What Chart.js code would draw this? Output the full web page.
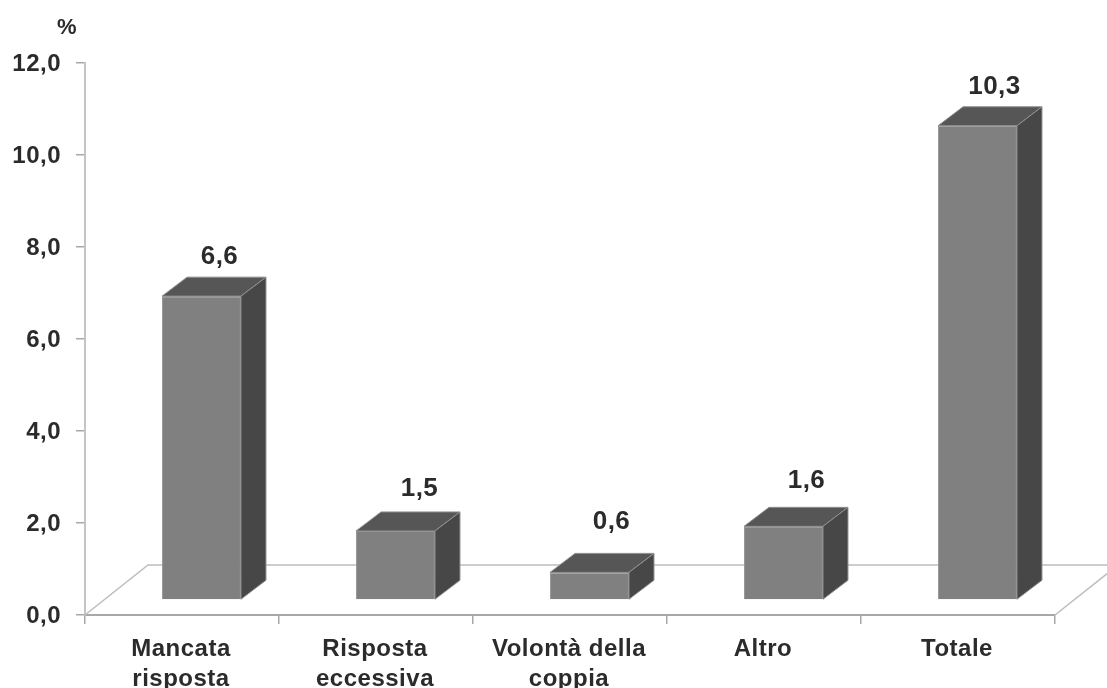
<!DOCTYPE html>
<html>
<head>
<meta charset="utf-8">
<title>Chart</title>
<script src="https://cdn.jsdelivr.net/npm/chart.js@4"></script>
<style>
    html, body { margin: 0; padding: 0; background: #fff; }
    #wrap { width: 1107px; height: 688px; overflow: hidden; }
</style>
</head>
<body>
<div id="wrap"><canvas id="chart" width="1107" height="688"></canvas></div>
<script>
const categories = [['Mancata', 'risposta'], ['Risposta', 'eccessiva'], ['Volontà della', 'coppia'], ['Altro'], ['Totale']];
const values = [6.6, 1.5, 0.6, 1.6, 10.3];
const yTicks = [0, 2, 4, 6, 8, 10, 12];

const comma = v => v.toFixed(1).replace('.', ',');

// 3D look: how far the bars sit from the axis, and how deep they are
const shiftX = 19.5, shiftY = -15;
const depthX = 25, depthY = -19;
// per label nudge from the top of the bar, the original is not regular
const labelNudgeX = [18, 24, 22, 23, 17];
const labelNudgeY = [-39, -42, -51, -46, -39];

const FONT = "'Liberation Sans', Arial, sans-serif";
const TEXT = '#2b2b2b';

function poly(ctx, pts, fill) {
    ctx.beginPath();
    pts.forEach((p, i) => i ? ctx.lineTo(p[0], p[1]) : ctx.moveTo(p[0], p[1]));
    ctx.closePath();
    ctx.fillStyle = fill;
    ctx.fill();
    ctx.strokeStyle = '#8f8f8f';
    ctx.lineWidth = 1;
    ctx.stroke();
}

const bars3d = {
    id: 'bars3d',
    beforeDraw(chart) {
        // the scanned text is a bit wider than Liberation
        chart.ctx.letterSpacing = '0.5px';
    },
    beforeDatasetsDraw(chart) {
        // floor behind the bars
        const { left, right, bottom } = chart.chartArea;
        const ctx = chart.ctx;
        ctx.save();
        ctx.strokeStyle = '#bdbdbd';
        ctx.lineWidth = 1.5;
        ctx.beginPath();
        ctx.moveTo(left, bottom);
        ctx.lineTo(left + 63, bottom - 50);
        ctx.lineTo(right + 63, bottom - 50);
        ctx.lineTo(right, bottom);
        ctx.stroke();
        ctx.restore();
    },
    beforeDatasetDraw(chart) {
        chart.ctx.save();
        chart.ctx.translate(shiftX, shiftY);
    },
    afterDatasetDraw(chart) {
        chart.ctx.restore();
    },
    afterDatasetsDraw(chart) {
        const ctx = chart.ctx;
        const meta = chart.getDatasetMeta(0);
        ctx.save();
        meta.data.forEach((bar, i) => {
            const l = bar.x - bar.width / 2 + shiftX;
            const r = bar.x + bar.width / 2 + shiftX;
            const t = bar.y + shiftY;
            const b = bar.base + shiftY;
            poly(ctx, [[l, t], [l + depthX, t + depthY], [r + depthX, t + depthY], [r, t]], '#565656');
            poly(ctx, [[r, t], [r + depthX, t + depthY], [r + depthX, b + depthY], [r, b]], '#474747');

            ctx.fillStyle = TEXT;
            ctx.font = 'bold 26px ' + FONT;
            ctx.textAlign = 'center';
            ctx.textBaseline = 'middle';
            ctx.fillText(comma(values[i]), bar.x + shiftX + labelNudgeX[i], t + labelNudgeY[i]);
        });
        ctx.font = 'bold 22px ' + FONT;
        ctx.textAlign = 'center';
        ctx.textBaseline = 'middle';
        ctx.fillStyle = TEXT;
        ctx.fillText('%', 67, 28);
        ctx.restore();
    }
};

new Chart(document.getElementById('chart').getContext('2d'), {
    type: 'bar',
    data: {
        labels: categories,
        datasets: [{
            data: values,
            backgroundColor: '#808080',
            borderColor: '#969696',
            borderWidth: 1,
            barPercentage: 0.407,
            categoryPercentage: 1
        }]
    },
    plugins: [bars3d],
    options: {
        responsive: false,
        animation: false,
        layout: { padding: { top: 62.5, right: 52, left: 0, bottom: 0 } },
        plugins: { legend: { display: false }, tooltip: { enabled: false } },
        scales: {
            x: {
                offset: true,
                afterFit: s => { s.height = 73; },
                border: { color: '#a8a8a8', width: 2 },
                grid: { drawOnChartArea: false, color: '#a8a8a8', tickLength: 9, lineWidth: 1.5 },
                ticks: {
                    color: TEXT,
                    font: { family: FONT, size: 24, weight: 'bold', lineHeight: 1.25 },
                    maxRotation: 0,
                    autoSkip: false,
                    padding: 10,
                    labelOffset: -1
                }
            },
            y: {
                min: 0,
                max: 12,
                afterFit: s => { s.width = 85; },
                afterBuildTicks: s => { s.ticks = yTicks.map(v => ({ value: v })); },
                border: { color: '#c4c4c4', width: 2 },
                grid: { drawOnChartArea: false, color: '#a8a8a8', tickLength: 9, lineWidth: 1.5 },
                ticks: {
                    color: TEXT,
                    font: { family: FONT, size: 24, weight: 'bold' },
                    padding: 15,
                    labelOffset: 1.5,
                    callback: v => comma(v)
                }
            }
        }
    }
});
</script>
</body>
</html>
